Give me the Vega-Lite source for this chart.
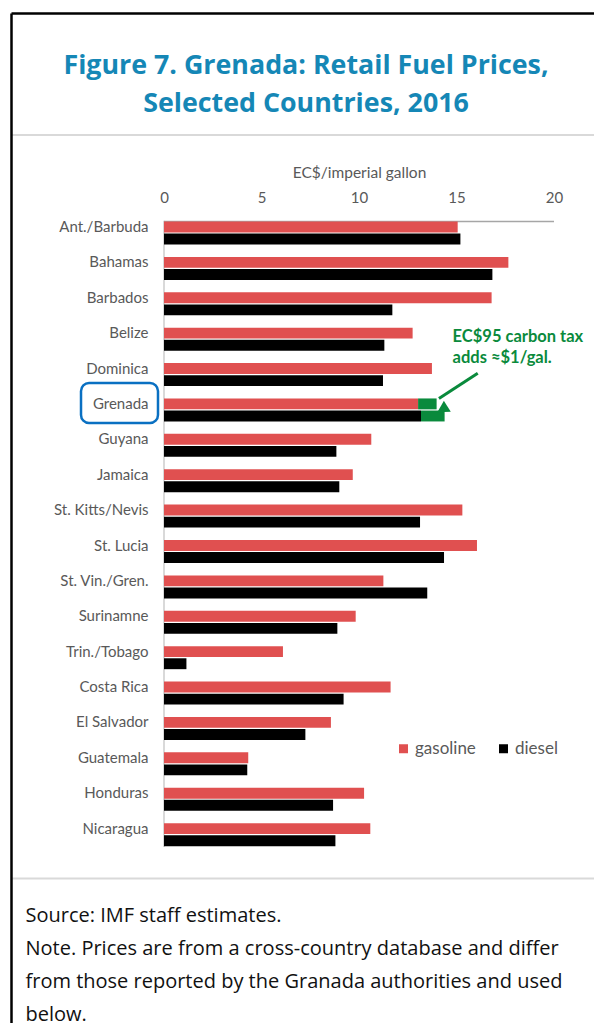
{
  "$schema": "https://vega.github.io/schema/vega-lite/v6.json",
  "width": 583,
  "height": 1010,
  "autosize": {"type": "none"},
  "padding": {"left": 11, "top": 13, "right": 0, "bottom": 0},
  "background": "white",
  "title": {
    "text": ["Figure 7. Grenada: Retail Fuel Prices,", "Selected Countries, 2016"],
    "orient": "top", "anchor": "middle", "frame": "group", "offset": -125.5,
    "baseline": "alphabetic", "lineHeight": 38, "font": "Open Sans", "fontSize": 26.8,
    "fontWeight": "bold", "color": "#1587b6", "dx": 3.5
  },
  "config": {"view": {"stroke": null}, "font": "Lato"},
  "datasets": {
    "fuel": [
      {"country": "Ant./Barbuda", "series": "gasoline", "value": 15.06},
      {"country": "Ant./Barbuda", "series": "diesel", "value": 15.2},
      {"country": "Bahamas", "series": "gasoline", "value": 17.66},
      {"country": "Bahamas", "series": "diesel", "value": 16.84},
      {"country": "Barbados", "series": "gasoline", "value": 16.8},
      {"country": "Barbados", "series": "diesel", "value": 11.71},
      {"country": "Belize", "series": "gasoline", "value": 12.75},
      {"country": "Belize", "series": "diesel", "value": 11.3},
      {"country": "Dominica", "series": "gasoline", "value": 13.74},
      {"country": "Dominica", "series": "diesel", "value": 11.23},
      {"country": "Grenada", "series": "gasoline", "value": 13.03},
      {"country": "Grenada", "series": "diesel", "value": 13.18},
      {"country": "Guyana", "series": "gasoline", "value": 10.63},
      {"country": "Guyana", "series": "diesel", "value": 8.84},
      {"country": "Jamaica", "series": "gasoline", "value": 9.68},
      {"country": "Jamaica", "series": "diesel", "value": 8.99},
      {"country": "St. Kitts/Nevis", "series": "gasoline", "value": 15.3},
      {"country": "St. Kitts/Nevis", "series": "diesel", "value": 13.13},
      {"country": "St. Lucia", "series": "gasoline", "value": 16.05},
      {"country": "St. Lucia", "series": "diesel", "value": 14.36},
      {"country": "St. Vin./Gren.", "series": "gasoline", "value": 11.25},
      {"country": "St. Vin./Gren.", "series": "diesel", "value": 13.5},
      {"country": "Surinamne", "series": "gasoline", "value": 9.83},
      {"country": "Surinamne", "series": "diesel", "value": 8.89},
      {"country": "Trin./Tobago", "series": "gasoline", "value": 6.1},
      {"country": "Trin./Tobago", "series": "diesel", "value": 1.15},
      {"country": "Costa Rica", "series": "gasoline", "value": 11.62},
      {"country": "Costa Rica", "series": "diesel", "value": 9.21},
      {"country": "El Salvador", "series": "gasoline", "value": 8.56},
      {"country": "El Salvador", "series": "diesel", "value": 7.25},
      {"country": "Guatemala", "series": "gasoline", "value": 4.32},
      {"country": "Guatemala", "series": "diesel", "value": 4.27},
      {"country": "Honduras", "series": "gasoline", "value": 10.26},
      {"country": "Honduras", "series": "diesel", "value": 8.67},
      {"country": "Nicaragua", "series": "gasoline", "value": 10.58},
      {"country": "Nicaragua", "series": "diesel", "value": 8.79}
    ],
    "tax": [
      {"country": "Grenada", "series": "gasoline", "start": 13.03, "end": 13.98},
      {"country": "Grenada", "series": "diesel", "start": 13.18, "end": 14.39}
    ]
  },
  "resolve": {"scale": {"y": "independent"}, "axis": {"x": "independent", "y": "independent"}},
  "layer": [
    {
      "data": {"values": [{}]},
      "mark": {"type": "point", "opacity": 0},
      "encoding": {
        "x": {"datum": 0, "type": "quantitative", "scale": {"domain": [-7.846, 22.051], "nice": false, "zero": false},
          "axis": {"orient": "top", "offset": 0, "domain": true, "domainColor": "#000000", "domainWidth": 2.5, "labels": false, "ticks": false, "grid": false, "title": null}},
        "y": {"datum": 0.5, "type": "quantitative", "scale": {"domain": [0, 1], "nice": false, "zero": false},
          "axis": {"orient": "left", "offset": 0, "domain": true, "domainColor": "#000000", "domainWidth": 2.5, "labels": false, "ticks": false, "grid": false, "title": null}}
      }
    },
    {
      "data": {"values": [{}]},
      "mark": {"type": "rule", "color": "#d9d9d9", "strokeWidth": 2},
      "encoding": {
        "x": {"datum": 0, "type": "quantitative",
          "axis": {"orient": "bottom", "offset": -145, "domain": true, "domainColor": "#d9d9d9", "domainWidth": 2, "labels": false, "ticks": false, "grid": false,
            "title": ["Source: IMF staff estimates.", "Note. Prices are from a cross-country database and differ", "from those reported by the Granada authorities and used", "below."],
            "titleFont": "Open Sans", "titleFontSize": 20, "titleFontWeight": "normal", "titleColor": "#111111", "titleX": 14, "titleY": 27.5, "titleAlign": "left", "titleAnchor": "start", "titleBaseline": "top", "titleLineHeight": 33, "titleLimit": 1000}},
        "y": {"datum": "Nicaragua", "type": "nominal", "bandPosition": 1.04,
          "scale": {"domain": ["Ant./Barbuda", "Bahamas", "Barbados", "Belize", "Dominica", "Grenada", "Guyana", "Jamaica", "St. Kitts/Nevis", "St. Lucia", "St. Vin./Gren.", "Surinamne", "Trin./Tobago", "Costa Rica", "El Salvador", "Guatemala", "Honduras", "Nicaragua"], "range": [208.5, 833.13], "paddingInner": 0.35, "paddingOuter": 0},
          "axis": null},
        "y2": {"datum": "Ant./Barbuda", "bandPosition": -0.035}
      }
    },
    {
      "data": {"values": [{}]},
      "mark": {"type": "rule", "color": "#a6a6a6", "strokeWidth": 1.5},
      "encoding": {
        "x": {"datum": 0, "type": "quantitative",
          "axis": {"orient": "top", "offset": -121.5, "domain": true, "domainColor": "#d9d9d9", "domainWidth": 2, "labels": false, "ticks": false, "grid": false, "title": null}},
        "x2": {"datum": 20},
        "y": {"datum": "Ant./Barbuda", "type": "nominal", "bandPosition": 0,
          "scale": {"domain": ["Ant./Barbuda", "Bahamas", "Barbados", "Belize", "Dominica", "Grenada", "Guyana", "Jamaica", "St. Kitts/Nevis", "St. Lucia", "St. Vin./Gren.", "Surinamne", "Trin./Tobago", "Costa Rica", "El Salvador", "Guatemala", "Honduras", "Nicaragua"], "range": [208.5, 833.13], "paddingInner": 0.35, "paddingOuter": 0},
          "axis": null}
      }
    },
    {
      "data": {"name": "fuel"},
      "mark": {"type": "bar"},
      "encoding": {
        "y": {"field": "country", "type": "nominal", "sort": null,
          "scale": {"domain": ["Ant./Barbuda", "Bahamas", "Barbados", "Belize", "Dominica", "Grenada", "Guyana", "Jamaica", "St. Kitts/Nevis", "St. Lucia", "St. Vin./Gren.", "Surinamne", "Trin./Tobago", "Costa Rica", "El Salvador", "Guatemala", "Honduras", "Nicaragua"], "range": [208.5, 833.13], "paddingInner": 0.35, "paddingOuter": 0},
          "axis": {"orient": "left", "offset": -153, "domain": false, "ticks": false, "tickSize": 0, "labelPadding": 16, "labelFont": "Lato", "labelFontSize": 15, "labelColor": "#595959", "labelOffset": -6, "labelAlign": "right", "labelBaseline": "middle", "labelLimit": 200, "title": null, "grid": false}},
        "x": {"field": "value", "type": "quantitative",
          "axis": {"orient": "top", "offset": -207.7, "values": [0, 5, 10, 15, 20], "domain": false, "ticks": false, "tickSize": 0, "grid": false, "labelPadding": 18.5, "labelBaseline": "alphabetic", "labelFont": "Lato", "labelFontSize": 15, "labelColor": "#595959", "labelFlush": false, "labelOverlap": false,
            "title": "EC$/imperial gallon", "titleFont": "Lato", "titleFontSize": 15.5, "titleFontWeight": "normal", "titleColor": "#595959", "titleX": 348, "titleY": -43.7, "titleBaseline": "alphabetic", "titleAlign": "center"}},
        "x2": {"datum": 0},
        "yOffset": {"field": "series", "type": "nominal", "sort": ["gasoline", "diesel"], "scale": {"domain": ["gasoline", "diesel"], "paddingInner": 0.1, "paddingOuter": 0}},
        "color": {"field": "series", "type": "nominal", "scale": {"domain": ["gasoline", "diesel"], "range": ["#e05050", "#000000"]},
          "legend": {"orient": "none", "legendX": 384, "legendY": 727, "direction": "horizontal", "title": null, "symbolType": "square", "symbolSize": 81, "symbolStrokeWidth": 0, "labelFont": "Lato", "labelFontSize": 17, "labelColor": "#595959", "columnPadding": 19, "labelOffset": 3, "padding": 0}}
      }
    },
    {
      "data": {"name": "tax"},
      "mark": {"type": "bar", "color": "#0a8a3c"},
      "encoding": {
        "y": {"field": "country", "type": "nominal", "sort": null,
          "scale": {"domain": ["Ant./Barbuda", "Bahamas", "Barbados", "Belize", "Dominica", "Grenada", "Guyana", "Jamaica", "St. Kitts/Nevis", "St. Lucia", "St. Vin./Gren.", "Surinamne", "Trin./Tobago", "Costa Rica", "El Salvador", "Guatemala", "Honduras", "Nicaragua"], "range": [208.5, 833.13], "paddingInner": 0.35, "paddingOuter": 0},
          "axis": null},
        "x": {"field": "start", "type": "quantitative", "axis": null},
        "x2": {"field": "end"},
        "yOffset": {"field": "series", "type": "nominal", "sort": ["gasoline", "diesel"]}
      }
    },
    {
      "data": {"values": [{}]},
      "mark": {"type": "rule", "color": "#0a8a3c", "strokeWidth": 3},
      "encoding": {
        "x": {"datum": 16.09, "type": "quantitative", "axis": null},
        "x2": {"datum": 14.1},
        "y": {"datum": "Dominica", "type": "nominal", "bandPosition": 0.44,
          "scale": {"domain": ["Ant./Barbuda", "Bahamas", "Barbados", "Belize", "Dominica", "Grenada", "Guyana", "Jamaica", "St. Kitts/Nevis", "St. Lucia", "St. Vin./Gren.", "Surinamne", "Trin./Tobago", "Costa Rica", "El Salvador", "Guatemala", "Honduras", "Nicaragua"], "range": [208.5, 833.13], "paddingInner": 0.35, "paddingOuter": 0},
          "axis": null},
        "y2": {"datum": "Grenada", "bandPosition": 0}
      }
    },
    {
      "data": {"values": [{}]},
      "mark": {"type": "point", "shape": "M0,0L-1,1.8L1,1.8Z", "filled": true, "size": 169, "color": "#0a8a3c", "opacity": 1, "strokeWidth": 0},
      "encoding": {
        "x": {"datum": 14.02, "type": "quantitative", "axis": null},
        "y": {"datum": "Grenada", "type": "nominal", "bandPosition": 0,
          "scale": {"domain": ["Ant./Barbuda", "Bahamas", "Barbados", "Belize", "Dominica", "Grenada", "Guyana", "Jamaica", "St. Kitts/Nevis", "St. Lucia", "St. Vin./Gren.", "Surinamne", "Trin./Tobago", "Costa Rica", "El Salvador", "Guatemala", "Honduras", "Nicaragua"], "range": [208.5, 833.13], "paddingInner": 0.35, "paddingOuter": 0},
          "axis": null},
        "angle": {"value": 238}
      }
    },
    {
      "data": {"values": [{}]},
      "mark": {"type": "text", "align": "left", "baseline": "middle", "font": "Lato", "fontSize": 16.5, "fontWeight": "bold", "color": "#0a8a3c", "lineHeight": 21.5, "dy": -6},
      "encoding": {
        "x": {"datum": 14.8, "type": "quantitative", "axis": null},
        "y": {"datum": "Belize", "type": "nominal",
          "scale": {"domain": ["Ant./Barbuda", "Bahamas", "Barbados", "Belize", "Dominica", "Grenada", "Guyana", "Jamaica", "St. Kitts/Nevis", "St. Lucia", "St. Vin./Gren.", "Surinamne", "Trin./Tobago", "Costa Rica", "El Salvador", "Guatemala", "Honduras", "Nicaragua"], "range": [208.5, 833.13], "paddingInner": 0.35, "paddingOuter": 0},
          "axis": null},
        "text": {"value": ["EC$95 carbon tax", "adds ≈$1/gal."]}
      }
    },
    {
      "data": {"values": [{}]},
      "mark": {"type": "rect", "filled": false, "stroke": "#0a70c2", "strokeWidth": 2.5, "cornerRadius": 8},
      "encoding": {
        "x": {"datum": -4.256, "type": "quantitative", "axis": null},
        "x2": {"datum": -0.308},
        "y": {"datum": "Grenada", "type": "nominal", "bandPosition": -0.67,
          "scale": {"domain": ["Ant./Barbuda", "Bahamas", "Barbados", "Belize", "Dominica", "Grenada", "Guyana", "Jamaica", "St. Kitts/Nevis", "St. Lucia", "St. Vin./Gren.", "Surinamne", "Trin./Tobago", "Costa Rica", "El Salvador", "Guatemala", "Honduras", "Nicaragua"], "range": [208.5, 833.13], "paddingInner": 0.35, "paddingOuter": 0},
          "axis": null},
        "y2": {"datum": "Grenada", "bandPosition": 1.07}
      }
    }
  ]
}
